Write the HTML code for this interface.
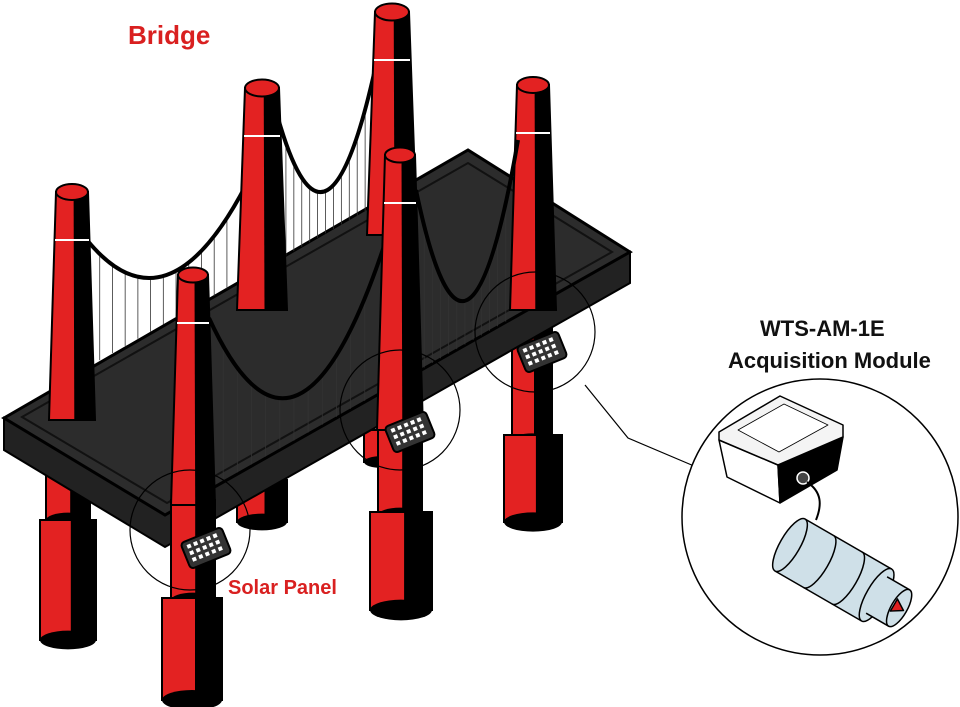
<!DOCTYPE html>
<html><head><meta charset="utf-8"><style>
html,body{margin:0;padding:0;background:#fff;width:960px;height:707px;overflow:hidden}
svg{display:block}
text{font-family:"Liberation Sans",sans-serif;font-weight:bold}
</style></head><body>
<svg id="s" width="960" height="707" viewBox="0 0 960 707" xmlns="http://www.w3.org/2000/svg">
<defs>
<g id="panel">
 <rect x="-22" y="-14" width="44" height="28" rx="4" fill="#333" stroke="#000" stroke-width="2"/>
 <g fill="#fff">
  <rect x="-17" y="-10" width="4" height="4"/><rect x="-10" y="-10" width="4" height="4"/><rect x="-3" y="-10" width="4" height="4"/><rect x="4" y="-10" width="4" height="4"/><rect x="11" y="-10" width="4" height="4"/>
  <rect x="-17" y="-3" width="4" height="4"/><rect x="-10" y="-3" width="4" height="4"/><rect x="-3" y="-3" width="4" height="4"/><rect x="4" y="-3" width="4" height="4"/><rect x="11" y="-3" width="4" height="4"/>
  <rect x="-17" y="4" width="4" height="4"/><rect x="-10" y="4" width="4" height="4"/><rect x="-3" y="4" width="4" height="4"/><rect x="4" y="4" width="4" height="4"/><rect x="11" y="4" width="4" height="4"/>
 </g>
</g>
</defs>

<g id="piersBack"></g>

<polygon points="4,418 4,450 165,547 630,283 630,252 165,515" fill="#222" stroke="#000" stroke-width="2"/>
<polygon points="4,418 468,150 630,252 165,515" fill="#2c2c2c" stroke="#000" stroke-width="3"/>
<polygon points="22,417 468,163 612,252 167,503" fill="none" stroke="#111" stroke-width="2"/>

<g id="back"></g>
<g id="front"></g>

<g fill="none" stroke="#000" stroke-width="1.2">
<circle cx="190" cy="530" r="60"/>
<circle cx="400" cy="410" r="60"/>
<circle cx="535" cy="332" r="60"/>
<polyline points="585,385 628,438 694,466"/>
<circle cx="820" cy="517" r="138" stroke-width="1.5" fill="#fff"/>
</g>

<g transform="translate(206,548) rotate(-22)"><use href="#panel"/></g>
<g transform="translate(410,432) rotate(-22)"><use href="#panel"/></g>
<g transform="translate(542,352) rotate(-22)"><use href="#panel"/></g>

<!-- inset device -->
<g stroke="#000" stroke-width="1.5" stroke-linejoin="round">
 <polygon points="719,440 778,465 780,503 727,477" fill="#fff"/>
 <polygon points="778,465 843,437 837,470 780,503" fill="#000"/>
 <polygon points="719,432 780,396 843,425 843,437 778,465 719,440" fill="#f4f4f4"/>
 <polygon points="738,430 784,404 828,425 779,452" fill="#fff" stroke-width="0.8"/>
 <circle cx="803" cy="478" r="6" fill="#444" stroke="#fff" stroke-width="1.5"/>
 <path d="M807,482 C822,492 822,505 816,520" fill="none" stroke-width="2"/>
 <g transform="translate(790,545) rotate(30)">
  <rect x="0" y="-30" width="100" height="60" fill="#cfe0e8" stroke="none"/>
  <line x1="0" y1="-30" x2="100" y2="-30"/><line x1="0" y1="30" x2="100" y2="30"/>
  <ellipse cx="0" cy="0" rx="10" ry="30" fill="#cfe0e8"/>
  <path d="M33,-30 a10,30 0 0 1 0,60 M66,-30 a10,30 0 0 1 0,60" fill="none"/>
  <ellipse cx="100" cy="0" rx="10" ry="30" fill="#cfe0e8"/>
  <rect x="100" y="-21" width="26" height="42" fill="#cfe0e8" stroke="none"/>
  <line x1="100" y1="-21" x2="126" y2="-21"/><line x1="100" y1="21" x2="126" y2="21"/>
  <ellipse cx="126" cy="0" rx="8" ry="21" fill="#cfe0e8"/>
  <polygon points="120,-7 131,0 120,7" fill="#e02020"/>
 </g>
</g>

<text x="128" y="44" font-size="26" fill="#d92020">Bridge</text>
<text x="228" y="594" font-size="20" fill="#d92020">Solar Panel</text>
<text x="760" y="336" font-size="22" fill="#111">WTS-AM-1E</text>
<text x="728" y="368" font-size="22" fill="#111">Acquisition Module</text>
</svg>
<script>
var NS="http://www.w3.org/2000/svg";
function el(p,t,a){var e=document.createElementNS(NS,t);for(var k in a)e.setAttribute(k,a[k]);document.getElementById(p).appendChild(e);return e;}
function cyl(p,cx,y1,y2,w){
 el(p,"rect",{x:cx-w/2,y:y1,width:w,height:y2-y1,fill:"#e32222",stroke:"#000","stroke-width":2});
 el(p,"rect",{x:cx+w*0.05,y:y1,width:w*0.45,height:y2-y1,fill:"#000"});
 el(p,"ellipse",{cx:cx,cy:y2,rx:w/2,ry:w/6,fill:"#000"});
}
function tower(p,cx,yt,yb,wt,wb){
 el(p,"polygon",{points:(cx-wt/2)+","+yt+" "+(cx+wt/2)+","+yt+" "+(cx+wb/2)+","+yb+" "+(cx-wb/2)+","+yb,fill:"#e32222",stroke:"#000","stroke-width":2});
 el(p,"polygon",{points:(cx+wt*0.05)+","+yt+" "+(cx+wt/2)+","+yt+" "+(cx+wb/2)+","+yb+" "+(cx+wb*0.05)+","+yb,fill:"#000"});
 el(p,"line",{x1:cx-wt/2-1,y1:yt+48,x2:cx+wt/2+1,y2:yt+48,stroke:"#fff","stroke-width":2});
 el(p,"ellipse",{cx:cx,cy:yt,rx:wt/2,ry:wt/4,fill:"#e32222",stroke:"#000","stroke-width":2});
}
function cable(p,x1,y1,x2,y2,ymin,deck){
 var cy=2*ymin-(y1+y2)/2, cx=(x1+x2)/2;
 for(var t=0.08;t<0.95;t+=0.08){
  var x=(1-t)*(1-t)*x1+2*t*(1-t)*cx+t*t*x2, y=(1-t)*(1-t)*y1+2*t*(1-t)*cy+t*t*y2;
  el(p,"line",{x1:x,y1:y,x2:x,y2:deck(x),stroke:"#333","stroke-width":0.8});
 }
 el(p,"path",{d:"M"+x1+","+y1+" Q"+cx+","+cy+" "+x2+","+y2,fill:"none",stroke:"#000","stroke-width":4});
}
var back=function(x){return 405-(x-20)*0.562;}, front=function(x){return 513-(x-165)*0.5616;};
cyl("piersBack",68,440,520,44);cyl("piersBack",68,520,640,56);
cyl("piersBack",262,480,522,50);
cyl("piersBack",382,430,462,36);
cyl("piersBack",532,300,440,40);cyl("piersBack",533,435,522,58);
cable("back",87,240,246,185,275,back);
cable("back",278,118,377,60,190,back);
tower("back",72,192,420,32,46);
tower("back",262,88,310,34,50);
tower("back",392,12,235,34,50);
tower("back",533,85,310,32,46);
cyl("front",193,500,600,44);cyl("front",192,598,700,60);
cyl("front",400,420,515,44);cyl("front",401,512,610,62);
cable("front",209,318,386,240,395,front);
cable("front",416,190,518,140,300,front);
tower("front",193,275,505,30,44);
tower("front",400,155,430,30,46);
</script>
</body></html>
